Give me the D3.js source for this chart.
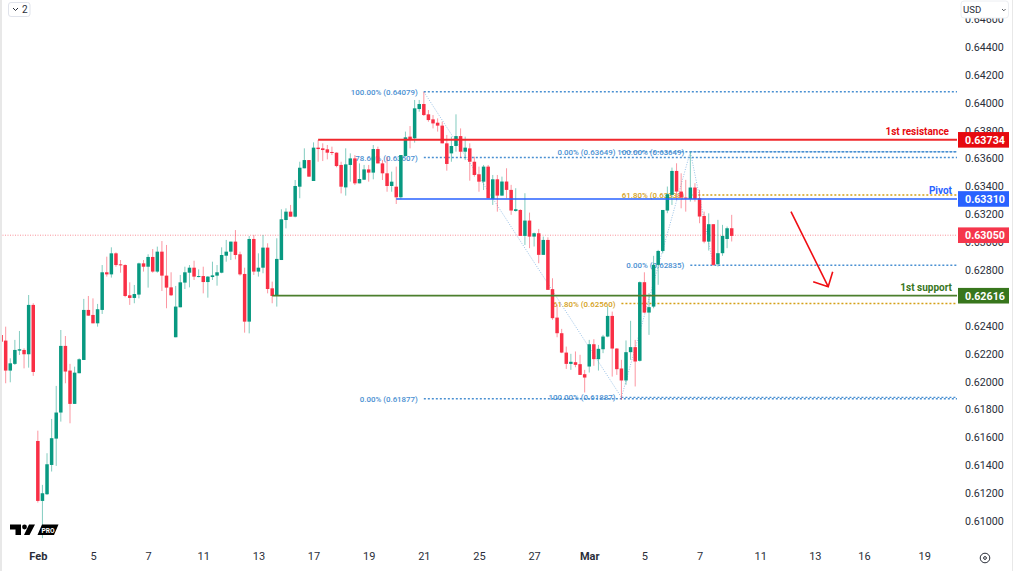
<!DOCTYPE html>
<html>
<head>
<meta charset="utf-8">
<script src="https://cdn.jsdelivr.net/npm/d3@7"></script>
<style>
  html, body { margin: 0; padding: 0; background: #fff; overflow: hidden; }
  svg { display: block; font-family: Roboto, sans-serif; }
</style>
</head>
<body>
<svg id="chart" width="1013" height="571"></svg>
<script>
// 4h candles
var opens = [.62334,.62294,.62079,.62127,.62222,.62227,.62196,.62550,.61574,.61144,.61192,.61402,.61591,.61778,.62256,.62079,.61840,.62060,.62155,.62514,.62478,.62418,.62514,.62784,.62769,.62920,.62841,.62836,.62619,.62600,.62624,.62848,.62824,.62894,.62789,.62932,.62760,.62676,.62318,.62533,.62710,.62781,.62817,.62750,.62757,.62714,.62750,.62760,.62781,.62903,.62932,.63004,.62913,.62772,
  .62430,.63023,.62789,.62817,.62961,.62669,.62614,.62872,.63159,.63219,.63183,.63398,.63530,.63589,.63439,.63678,.63673,.63666,.63647,.63642,.63554,.63393,.63554,.63601,.63422,.63448,.63522,.63499,.63668,.63565,.63494,.63403,.63398,.63322,.63618,.63757,.63745,.63955,.63991,.63917,.63881,.63857,.63836,.63709,.63637,.63690,.63761,.63649,.63673,.63577,.63487,.63434,.63542,.63310,.63451,
  .63334,.63435,.63375,.63224,.63231,.63045,.63155,.63040,.63064,.62909,.63016,.62663,.62459,.62347,.62208,.62127,.62139,.62125,.62053,.62108,.62268,.62161,.62232,.62323,.62471,.62237,.62094,.62008,.62211,.62247,.62149,.62713,.62495,.62538,.62837,.62937,.63227,.63339,.63511,.63363,.63320,.63310,.63392,.63315,.63188,.63004,.63129,.62842,.62921,.63023,.63100];
var highs = [.62334,.62394,.62167,.62299,.62363,.62239,.62621,.62562,.61648,.61259,.61486,.61732,.61969,.62370,.62327,.62127,.62107,.62167,.62593,.62614,.62597,.62557,.62836,.62896,.62963,.62927,.62872,.62841,.62712,.62693,.62853,.62872,.62913,.62951,.62968,.63008,.62980,.62784,.62686,.62765,.62824,.62836,.62867,.62805,.62824,.62757,.62860,.62836,.62963,.63016,.63004,.63087,.62932,.62817,
  .63044,.63052,.62920,.63052,.62992,.62717,.63028,.63236,.63243,.63267,.63446,.63577,.63673,.63589,.63716,.63733,.63709,.63697,.63685,.63644,.63577,.63673,.63637,.63625,.63565,.63554,.63554,.63697,.63685,.63589,.63613,.63506,.63542,.63625,.63793,.63833,.64020,.64020,.64079,.63948,.63912,.63888,.63864,.63769,.63757,.63917,.63816,.63757,.63709,.63613,.63542,.63554,.63554,.63482,.63482,
  .63470,.63530,.63411,.63387,.63236,.63351,.63212,.63069,.63095,.63040,.63035,.62741,.62550,.62378,.62251,.62199,.62216,.62192,.62084,.62299,.62304,.62263,.62335,.62538,.62502,.62240,.62156,.62295,.62436,.62299,.62718,.62784,.62634,.62902,.62945,.63231,.63399,.63535,.63566,.63494,.63447,.63649,.63423,.63375,.63219,.63207,.63129,.63160,.63124,.63112,.63196];
var lows = [.62286,.61988,.61995,.62119,.62191,.62095,.62100,.62041,.61132,.60877,.61187,.61355,.61395,.61713,.61988,.61701,.61840,.62060,.62155,.62471,.62418,.62394,.62485,.62753,.62746,.62824,.62781,.62605,.62550,.62562,.62597,.62789,.62674,.62781,.62781,.62650,.62526,.62614,.62318,.62533,.62664,.62676,.62729,.62748,.62633,.62602,.62729,.62688,.62777,.62860,.62872,.62877,.62760,.62351,
  .62346,.62765,.62753,.62777,.62633,.62562,.62538,.62872,.63099,.63183,.63178,.63315,.63530,.63470,.63439,.63577,.63582,.63594,.63625,.63537,.63350,.63334,.63434,.63410,.63422,.63446,.63434,.63451,.63565,.63446,.63362,.63362,.63274,.63307,.63613,.63673,.63714,.63936,.63905,.63864,.63816,.63793,.63709,.63513,.63577,.63649,.63609,.63589,.63441,.63470,.63362,.63374,.63315,.63267,.63219,
  .63334,.63315,.63196,.63219,.63045,.62980,.62957,.62969,.62849,.62909,.62658,.62443,.62318,.62204,.62091,.62084,.62103,.62048,.61922,.62065,.62113,.62079,.62204,.62318,.62036,.62048,.61869,.61977,.62156,.61965,.62144,.62491,.62335,.62526,.62694,.62921,.63208,.63267,.63303,.63243,.63219,.63291,.63291,.63136,.62992,.62940,.62830,.62825,.62902,.62957,.63005];
var closes = [.62286,.62079,.62131,.62227,.62232,.62196,.62550,.62069,.61144,.61199,.61407,.61594,.61778,.62256,.62072,.61840,.62064,.62160,.62514,.62473,.62418,.62519,.62784,.62769,.62920,.62836,.62834,.62614,.62600,.62628,.62848,.62824,.62894,.62789,.62932,.62760,.62674,.62619,.62538,.62712,.62784,.62817,.62753,.62757,.62714,.62753,.62762,.62784,.62908,.62932,.63004,.62908,.62769,.62430,
  .63023,.62789,.62817,.62961,.62664,.62614,.62880,.63164,.63219,.63183,.63403,.63534,.63589,.63470,.63678,.63668,.63661,.63642,.63640,.63546,.63398,.63558,.63601,.63422,.63453,.63522,.63499,.63668,.63565,.63494,.63403,.63434,.63322,.63625,.63752,.63738,.63960,.63991,.63912,.63876,.63852,.63836,.63709,.63561,.63690,.63761,.63649,.63678,.63577,.63482,.63434,.63542,.63315,.63451,.63334,
  .63435,.63375,.63227,.63236,.63045,.63155,.63040,.63064,.62909,.63016,.62658,.62455,.62347,.62208,.62127,.62142,.62120,.62048,.62029,.62268,.62161,.62235,.62323,.62471,.62237,.62089,.62008,.62211,.62247,.62144,.62713,.62495,.62534,.62837,.62937,.63231,.63344,.63511,.63363,.63320,.63315,.63392,.63310,.63184,.63004,.63129,.62837,.62921,.63045,.63100,.63045];

// 0.626 sits fully behind the support tag, so it is left out
var yTicks = [.610,.612,.614,.616,.618,.620,.622,.624,.628,.630,.632,.634,.636,.638,.640,.642,.644,.646];
var xTickLabels = ["Feb","5","7","11","13","17","19","21","25","27","Mar","5","7","11","13","16","19"];
var xTickBars = [8,20,32,44,56,68,80,92,104,116,128,140,152,165.2,177.1,187.8,200.9];

// horizontal levels drawn by hand on the chart
var levelNames = ["1st resistance","Pivot","1st support"];
var levelPrices = [.63734,.63310,.62616];
var levelStart = [69,86,59];
var levelColors = ["#f0282d","#2962ff","#4b7f2d"];
var levelWidths = [2,1.6,1.7];
var tagColors = ["#e60a0f","#2962ff","#38761d"];
var lastPrice = .63050;

// fib levels
var fibLabels = ["100.00% (0.64079)","78.60% (0.63607)","0.00% (0.61877)","0.00% (0.63649)","61.80% (0.62560)","100.00% (0.61887)","100.00% (0.63649)","61.80% (0.63338)","0.00% (0.62835)"];
var fibPrices = [.64079,.63607,.61877,.63649,.62560,.61887,.63649,.63338,.62835];
var fibStart = [92,92,92,135,135,135,150,150,150];
var fibColors = ["#4a90d2","#4a90d2","#4a90d2","#4a90d2","#d4a017","#4a90d2","#4a90d2","#d4a017","#4a90d2"];
var fibPathBars = [92,135,150,155];
var fibPathPrices = [.64079,.61887,.63649,.62835];

var arrowBars = [171.9,180];
var arrowPrices = [.63219,.62681];

var up = "#089981", down = "#f92f45";
var plotRight = 957;

var svg = d3.select("#chart");
var x = d3.scaleLinear().domain([0,159]).range([1.08,731.7]);
var y = d3.scaleLinear().domain([.61,.644]).range([521,47]);

// price axis
var yAxis = d3.axisRight(y).tickValues(yTicks).tickFormat(d3.format(".5f")).tickSize(0).tickPadding(0);
var yg = svg.append("g").attr("transform","translate(965,0)").call(yAxis);
yg.select(".domain").remove();
yg.selectAll("text").attr("fill","#2a2e39").style("font-size","10.7px").style("font-family","Roboto, sans-serif");

// time axis
var xAxis = d3.axisBottom(x).tickValues(xTickBars).tickFormat(function(d,i){ return xTickLabels[i]; }).tickSize(0).tickPadding(0);
var xg = svg.append("g").attr("transform","translate(0,552)").call(xAxis);
xg.select(".domain").remove();
xg.selectAll("text").attr("fill","#2a2e39").style("font-size","11px").style("font-family","Roboto, sans-serif")
  .style("font-weight",function(d,i){ return xTickLabels[i]=="Feb"||xTickLabels[i]=="Mar" ? "700" : "400"; });

// last price dotted line
svg.append("line").attr("x1",0).attr("x2",plotRight).attr("y1",y(lastPrice)).attr("y2",y(lastPrice))
  .attr("stroke","#f23645").attr("stroke-opacity",.55).attr("stroke-dasharray","1 1.5");

// fib lines and labels, these sit under the candles
var fibs = svg.append("g");
fibPrices.forEach(function(p,i){
  fibs.append("line").attr("x1",x(fibStart[i])).attr("x2",plotRight).attr("y1",y(p)).attr("y2",y(p))
    .attr("stroke",fibColors[i]).attr("stroke-width",1.4).attr("stroke-dasharray","2 2");
  fibs.append("text").attr("x",x(fibStart[i])-6).attr("y",y(p)+3).attr("text-anchor","end")
    .attr("fill",fibColors[i]).style("font-size","7.9px").style("font-weight","500").text(fibLabels[i]);
});
var fibLine = d3.line().x(function(d){ return x(d); }).y(function(d,i){ return y(fibPathPrices[i]); });
fibs.append("path").attr("d",fibLine(fibPathBars)).attr("fill","none")
  .attr("stroke","#7fb2e0").attr("stroke-opacity",.8).attr("stroke-dasharray","1 1.5");

// candles
var candles = svg.append("g").selectAll("g").data(opens).join("g");
candles.append("line")
  .attr("x1",function(d,i){ return x(i); }).attr("x2",function(d,i){ return x(i); })
  .attr("y1",function(d,i){ return y(highs[i]); }).attr("y2",function(d,i){ return y(lows[i]); })
  .attr("stroke",function(d,i){ return closes[i]>=d ? up : down; }).attr("stroke-opacity",.5).attr("stroke-width",1);
candles.append("rect")
  .attr("x",function(d,i){ return x(i)-1.75; }).attr("width",3.5)
  .attr("y",function(d,i){ return y(Math.max(d,closes[i])); })
  .attr("height",function(d,i){ return Math.max(1,Math.abs(y(d)-y(closes[i]))); })
  .attr("fill",function(d,i){ return closes[i]>=d ? up : down; });

// levels, names and tags
levelPrices.forEach(function(p,i){
  svg.append("line").attr("x1",x(levelStart[i])).attr("x2",plotRight).attr("y1",y(p)).attr("y2",y(p))
    .attr("stroke",levelColors[i]).attr("stroke-width",levelWidths[i]);
  svg.append("text").attr("x",i==0 ? 949 : 952).attr("y",y(p)-5).attr("text-anchor","end")
    .attr("fill",tagColors[i]).style("font-size","10px").style("font-weight","700").text(levelNames[i]);
});

function priceTag(p,color){
  svg.append("rect").attr("x",958).attr("width",51).attr("y",y(p)-7.8).attr("height",15.6).attr("fill",color);
  svg.append("text").attr("x",965).attr("y",y(p)+3.8).attr("fill","#fff")
    .style("font-size","10.7px").style("font-weight","700").text(d3.format(".5f")(p));
}
priceTag(lastPrice,"#f5364c");
levelPrices.forEach(function(p,i){ priceTag(p,tagColors[i]); });

// red arrow
var ax1 = x(arrowBars[1]), ay1 = y(arrowPrices[1]);
svg.append("path")
  .attr("d","M"+x(arrowBars[0])+","+y(arrowPrices[0])+"L"+ax1+","+ay1+"M"+(ax1-15)+","+(ay1-5)+"L"+ax1+","+ay1+"L"+(ax1+4.5)+","+(ay1-15))
  .attr("fill","none").attr("stroke","#f00f14").attr("stroke-width",1.6);

// logo
var logo = svg.append("g");
logo.append("path").attr("fill","#000")
  .attr("d","M10,524.5H21V535H15.5V529.5H10ZM29,524.5H35L29.5,535H24ZM37.5,535L42,524.5H58.5L54,535Z");
logo.append("circle").attr("cx",24.5).attr("cy",527).attr("r",2.4).attr("fill","#000");
logo.append("text").attr("x",41.5).attr("y",532.6).attr("fill","#fff").style("font-size","6.6px").style("font-weight","700").text("PRO");

// ui bits
svg.append("rect").attr("x",8.5).attr("y",2.5).attr("width",21.5).attr("height",14).attr("rx",2.5).attr("fill","#fff").attr("stroke","#e0e3eb");
svg.append("path").attr("d","M13,8L15.5,10.5L18,8").attr("fill","none").attr("stroke","#2a2e39");
svg.append("text").attr("x",22).attr("y",13).attr("fill","#2a2e39").style("font-size","10px").text("2");
svg.append("rect").attr("x",961).attr("y",1).attr("width",47.5).attr("height",17).attr("rx",3).attr("fill","#fff").attr("stroke","#eceef2");
svg.append("text").attr("x",963).attr("y",13).attr("fill","#2a2e39").style("font-size","9.6px").text("USD");
svg.append("path").attr("d","M1002,9L1003.8,10.8L1005.6,9").attr("fill","none").attr("stroke","#2a2e39").attr("stroke-width",.8);
svg.append("circle").attr("cx",985).attr("cy",558).attr("r",4.8).attr("fill","none").attr("stroke","#2a2e39");
svg.append("circle").attr("cx",985).attr("cy",558).attr("r",1.4).attr("fill","none").attr("stroke","#2a2e39");

// window edges
svg.append("rect").attr("x",0).attr("y",0).attr("width",2).attr("height",571).attr("fill","#e8e8e8");
svg.append("rect").attr("x",1012).attr("y",0).attr("width",1).attr("height",571).attr("fill","#e8e8e8");
</script>
</body>
</html>
